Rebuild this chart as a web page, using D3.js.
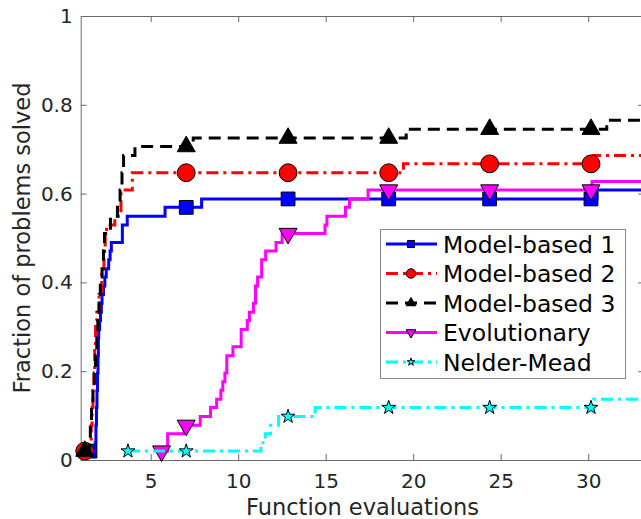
<!DOCTYPE html>
<html>
<head>
<meta charset="utf-8">
<script src="https://cdn.jsdelivr.net/npm/d3@7"></script>
<style>
  body { margin: 0; background: #fff; }
  svg { display: block; font-family: 'DejaVu Sans', sans-serif; }
</style>
</head>
<body>
<script>
// step points: evaluations at which the solved fraction changes
const mb1X = [1.53, 1.83, 1.87, 1.90, 1.93, 1.96, 1.99, 2.01, 2.03, 2.08, 2.13, 2.18, 2.22, 2.30, 2.38, 2.46, 2.60, 2.68, 2.75, 3.38, 3.66, 5.82, 7.91, 30.5]
const mb1Y = [.020, .039, .078, .118, .157, .196, .235, .275, .294, .314, .333, .353, .373, .392, .412, .431, .451, .471, .490, .529, .549, .569, .588, .608]

const mb2X = [1.23, 1.55, 1.60, 1.65, 1.70, 1.75, 1.80, 1.85, 1.92, 2.05, 2.20, 2.33, 2.40, 2.48, 2.95, 3.30, 3.95, 19.44, 30.3]
const mb2Y = [.020, .039, .078, .118, .157, .196, .255, .314, .333, .373, .431, .471, .510, .529, .549, .608, .647, .667, .686]

const mb3X = [1.23, 1.50, 1.55, 1.62, 1.70, 1.78, 1.85, 1.92, 1.98, 2.05, 2.12, 2.22, 2.30, 2.36, 2.70, 3.10, 3.25, 3.36, 3.45, 4.10, 7.43, 19.6, 31.06]
const mb3Y = [.020, .039, .078, .118, .157, .196, .235, .275, .333, .373, .412, .431, .471, .510, .549, .569, .608, .647, .686, .706, .725, .745, .765]

const evoX = [5.62, 5.97, 6.90, 7.83, 8.42, 8.77, 9.01, 9.12, 9.24, 9.35, 9.70, 10.17, 10.52, 10.64, 10.87, 10.99, 11.11, 11.34, 11.57, 12.16, 12.51, 14.96, 15.07, 16.13, 16.36, 17.42, 30.22]
const evoY = [.020, .059, .078, .098, .118, .137, .157, .176, .196, .235, .255, .294, .314, .333, .353, .392, .412, .451, .471, .490, .510, .529, .549, .569, .588, .608, .627]

const nmX = [3.70, 11.30, 11.55, 11.85, 12.30, 14.40, 30.3]
const nmY = [.020, .039, .059, .078, .098, .118, .137]

// markers sit on the first point and then at these evaluation counts
const markerX = [7.03, 12.85, 18.6, 24.37, 30.16]

const xTicks = [5, 10, 15, 20, 25, 30]
const yTicks = [0, 0.2, 0.4, 0.6, 0.8, 1]
const yTickLabels = ['0', '0.2', '0.4', '0.6', '0.8', '1']
const names = ['Model-based 1', 'Model-based 2', 'Model-based 3', 'Evolutionary', 'Nelder-Mead']

const width = 641, height = 519
const plot = { left: 80.7, right: 644.2, top: 16, bottom: 460 }
const xMax = 33.2

const svg = d3.select('body').append('svg')
    .attr('width', width)
    .attr('height', height)
    .style('background-color', 'white')

const xScale = d3.scaleLinear().domain([1, xMax]).range([plot.left, plot.right])
const yScale = d3.scaleLinear().domain([0, 1]).range([plot.bottom, plot.top])

const styles = [
    { color: '#0000ff', dash: null, symbol: d3.symbolSquare, size: 190, legendSize: 50, flip: false },
    { color: '#ff0000', dash: '12,5,3,5', symbol: d3.symbolCircle, size: 250, legendSize: 70, flip: false },
    { color: '#000000', dash: '12,7', symbol: d3.symbolTriangle, size: 140, legendSize: 40, flip: false },
    { color: '#ff00ff', dash: null, symbol: d3.symbolTriangle, size: 140, legendSize: 40, flip: true },
    { color: '#00ffff', dash: '12,5,3,5', symbol: d3.symbolStar, size: 60, legendSize: 18, flip: false }
]

const series = [[mb1X, mb1Y], [mb2X, mb2Y], [mb3X, mb3Y], [evoX, evoY], [nmX, nmY]].map((d, i) => {
    const pts = d[0].map((x, j) => [x, d[1][j]])
    pts.push([xMax, d[1][d[1].length - 1]])
    return { name: names[i], pts: pts, style: styles[i] }
})

// value of a step series at x
const stepValue = (pts, x) => {
    let v = pts[0][1]
    pts.forEach(p => { if (p[0] <= x) v = p[1] })
    return v
}

// axes box with inward ticks
svg.append('g')
    .attr('class', 'x axis')
    .attr('transform', `translate(0, ${plot.bottom})`)
    .call(d3.axisBottom(xScale).tickValues(xTicks).tickSizeInner(-6).tickSizeOuter(0).tickPadding(14))
svg.append('g')
    .attr('transform', `translate(0, ${plot.top})`)
    .call(d3.axisTop(xScale).tickValues(xTicks).tickSizeInner(-6).tickSizeOuter(0).tickFormat(''))
svg.append('g')
    .attr('class', 'y axis')
    .attr('transform', `translate(${plot.left}, 0)`)
    .call(d3.axisLeft(yScale).tickValues(yTicks).tickSizeInner(-6).tickSizeOuter(0).tickPadding(8)
        .tickFormat((d, i) => yTickLabels[i]))
svg.append('g')
    .attr('transform', `translate(${plot.right}, 0)`)
    .call(d3.axisRight(yScale).tickValues(yTicks).tickSizeInner(-6).tickSizeOuter(0).tickFormat(''))

svg.selectAll('.domain, .tick line').attr('stroke', '#6b6b6b').attr('stroke-width', 1)
svg.selectAll('.tick text')
    .style('font-size', '20px')
    .style('fill', '#262626')
    .style('font-family', 'DejaVu Sans')

svg.append('text')
    .attr('x', (plot.left + plot.right) / 2)
    .attr('y', 515)
    .style('text-anchor', 'middle')
    .style('font-size', '22.5px')
    .style('fill', '#262626')
    .text('Function evaluations')

svg.append('text')
    .attr('transform', `translate(30, ${(plot.top + plot.bottom) / 2}) rotate(-90)`)
    .style('text-anchor', 'middle')
    .style('font-size', '22.5px')
    .style('fill', '#262626')
    .text('Fraction of problems solved')

const line = d3.line()
    .x(d => xScale(d[0]))
    .y(d => yScale(d[1]))
    .curve(d3.curveStepAfter)

const symbolPath = (st, size) => d3.symbol().type(st.symbol).size(size)()

series.forEach(s => {
    svg.append('path')
        .attr('d', line(s.pts))
        .attr('fill', 'none')
        .attr('stroke', s.style.color)
        .attr('stroke-width', 3)
        .attr('stroke-dasharray', s.style.dash)

    const marks = [s.pts[0][0]].concat(markerX)
    svg.selectAll(null)
        .data(marks)
        .enter().append('path')
        .attr('d', symbolPath(s.style, s.style.size))
        .attr('transform', x => `translate(${xScale(x)}, ${yScale(stepValue(s.pts, x))})` + (s.style.flip ? ' rotate(180)' : ''))
        .attr('fill', s.style.color)
        .attr('stroke', 'black')
        .attr('stroke-width', 1)
})

// legend
const legend = svg.append('g')
legend.append('rect')
    .attr('x', 380.5)
    .attr('y', 229.5)
    .attr('width', 245)
    .attr('height', 149)
    .attr('fill', 'white')
    .attr('stroke', '#8a8a8a')
    .attr('stroke-width', 1)

series.forEach((s, i) => {
    const y = 244 + i * 29.5
    legend.append('line')
        .attr('x1', 386).attr('x2', 437)
        .attr('y1', y).attr('y2', y)
        .attr('stroke', s.style.color)
        .attr('stroke-width', 3)
        .attr('stroke-dasharray', s.style.dash)
    legend.append('path')
        .attr('d', symbolPath(s.style, s.style.legendSize))
        .attr('transform', `translate(411, ${y})` + (s.style.flip ? ' rotate(180)' : ''))
        .attr('fill', s.style.color)
        .attr('stroke', 'black')
        .attr('stroke-width', 1)
    legend.append('text')
        .attr('x', 443)
        .attr('y', y + 8.5)
        .style('font-size', '23.5px')
        .style('fill', 'black')
        .text(s.name)
})
</script>
</body>
</html>
